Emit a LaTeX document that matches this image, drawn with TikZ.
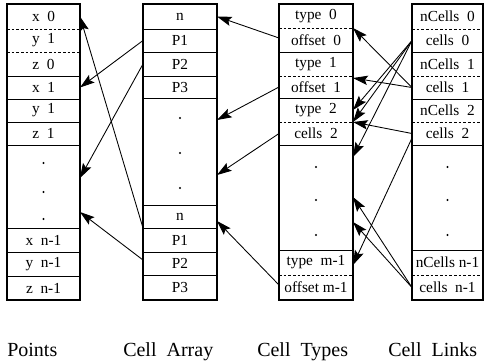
\documentclass[tikz,border=0pt]{standalone}
\usepackage{fontspec}
\setmainfont{Liberation Serif}
\usetikzlibrary{arrows.meta,calc}
\newcommand\rowbox[6]{%
  \node[cell, minimum width={#6*0.75pt}, minimum height={(#4-#3)*0.75pt}, anchor=north west] (#1) at (#2,#3) {#5};}
\begin{document}
\begin{tikzpicture}[x=0.75pt,y=-0.75pt,
  cell/.style={inner sep=0pt, outer sep=0pt, font=\fontsize{11.5}{12}\selectfont},
  outer/.style={line width=1.4pt},
  sep/.style={line width=0.6pt},
  dsep/.style={line width=0.5pt, dash pattern=on 2pt off 1.5pt},
  ptr/.style={line width=0.65pt, -{Stealth[length=11pt,width=7pt,inset=2pt]}},
  lab/.style={anchor=base west, inner sep=0pt, font=\fontsize{15}{18}\selectfont},
  dot/.style={fill=black}]
\useasboundingbox (0,0) rectangle (484,362);
% ---------- Points ----------
\rowbox{pA}{7}{4}{29}{x\ \ 0}{73}
\rowbox{pB}{7}{29}{52}{y\ \ 1}{73}
\rowbox{pC}{7}{52}{76}{z\ \ 0}{73}
\rowbox{pD}{7}{76}{99}{x\ \ 1}{73}
\rowbox{pE}{7}{99}{122}{y\ \ 1}{73}
\rowbox{pF}{7}{122}{145}{z\ \ 1}{73}
\rowbox{pG}{7}{145}{228}{}{73}
\rowbox{pH}{7}{228}{252}{x\ \ n-1}{73}
\rowbox{pI}{7}{252}{276}{y\ \ n-1}{73}
\rowbox{pJ}{7}{276}{300}{z\ \ n-1}{73}
\draw[dsep] (pA.south west) -- (pA.south east);
\draw[dsep] (pB.south west) -- (pB.south east);
\foreach \r in {pC,pD,pE,pF,pG,pH,pI}{\draw[sep] (\r.south west) -- (\r.south east);}
\draw[outer] (pA.north west) rectangle (pJ.south east);
\foreach \yy in {163,192,219}{\fill[dot] (pG.north |- 0,\yy) circle (1.2);}
% ---------- Cell Array ----------
\rowbox{aA}{143}{4}{29}{n}{74}
\rowbox{aB}{143}{29}{52}{P1}{74}
\rowbox{aC}{143}{52}{76}{P2}{74}
\rowbox{aD}{143}{76}{98}{P3}{74}
\rowbox{aE}{143}{98}{205}{}{74}
\rowbox{aF}{143}{205}{228}{n}{74}
\rowbox{aG}{143}{228}{252}{P1}{74}
\rowbox{aH}{143}{252}{275}{P2}{74}
\rowbox{aI}{143}{275}{300}{P3}{74}
\foreach \r in {aA,aB,aC,aD,aE,aF,aG,aH}{\draw[sep] (\r.south west) -- (\r.south east);}
\draw[outer] (aA.north west) rectangle (aI.south east);
\foreach \yy in {118,153,188}{\fill[dot] (aE.north |- 0,\yy) circle (1.2);}
% ---------- Cell Types ----------
\rowbox{tA}{279}{4}{28}{type\ \ 0}{74}
\rowbox{tB}{279}{28}{52}{offset\ \ 0}{74}
\rowbox{tC}{279}{52}{76}{type\ \ 1}{74}
\rowbox{tD}{279}{76}{98}{offset\ \ 1}{74}
\rowbox{tE}{279}{98}{122}{type\ \ 2}{74}
\rowbox{tF}{279}{122}{145}{cells\ \ 2}{74}
\rowbox{tG}{279}{145}{250}{}{74}
\rowbox{tH}{279}{250}{275}{type\ \ m-1}{74}
\rowbox{tI}{279}{275}{300}{offset\ m-1}{74}
\foreach \r in {tA,tC,tE,tH}{\draw[dsep] (\r.south west) -- (\r.south east);}
\foreach \r in {tB,tD,tF,tG}{\draw[sep] (\r.south west) -- (\r.south east);}
\draw[outer] (tA.north west) rectangle (tI.south east);
\foreach \yy in {167,200,235}{\fill[dot] (tG.north |- 0,\yy) circle (1.2);}
% ---------- Cell Links ----------
\rowbox{lA}{412}{4}{29}{nCells\ \ 0}{71}
\rowbox{lB}{412}{29}{52}{cells\ \ 0}{71}
\rowbox{lC}{412}{52}{76}{nCells\ \ 1}{71}
\rowbox{lD}{412}{76}{99}{cells\ \ 1}{71}
\rowbox{lE}{412}{99}{122}{nCells\ \ 2}{71}
\rowbox{lF}{412}{122}{145}{cells\ \ 2}{71}
\rowbox{lG}{412}{145}{250}{}{71}
\rowbox{lH}{412}{250}{275}{nCells\ n-1}{71}
\rowbox{lI}{412}{275}{300}{cells\ \ n-1}{71}
\foreach \r in {lA,lC,lE,lH}{\draw[dsep] (\r.south west) -- (\r.south east);}
\foreach \r in {lB,lD,lF,lG}{\draw[sep] (\r.south west) -- (\r.south east);}
\draw[outer] (lA.north west) rectangle (lI.south east);
\foreach \yy in {167,200,235}{\fill[dot] (lG.north |- 0,\yy) circle (1.2);}
% ---------- pointers: Cell Array -> Points ----------
\draw[ptr] (aG.north west) -- (pA.east);
\draw[ptr] (aB.west) -- (pD.east);
\draw[ptr] (aC.west) -- (pG.east |- 0,178);
\draw[ptr] (aH.west |- 0,260) -- (pG.east |- 0,212);
% ---------- Cell Types -> Cell Array ----------
\draw[ptr] (tB.west |- 0,38) -- (aA.east);
\draw[ptr] (tD.west) -- (aE.east |- 0,120);
\draw[ptr] (tF.west) -- (aE.east |- 0,175);
\draw[ptr] (tI.west |- 0,285) -- (aF.east |- 0,221);
% ---------- Cell Links -> Cell Types ----------
\draw[ptr] (lD.west) -- (tA.south east);
\draw[ptr] (lD.west) -- (tD.north east |- 0,78);
\draw[ptr] (lB.west) -- (tE.east);
\draw[ptr] (lB.west) -- (tE.south east);
\draw[ptr] (lB.west) -- (tG.east |- 0,157);
\draw[ptr] (lF.west) -- (tE.south east);
\draw[ptr] (lF.west |- 0,138) -- (tH.east |- 0,265);
\draw[ptr] (lI.west) -- (tG.east |- 0,197);
\draw[ptr] (lI.west) -- (tG.east |- 0,222);
% ---------- labels ----------
\node[lab] (lp)  at (7,356)   {Points};
\node[lab] (lca) at (123,356) {Cell\ \ Array};
\node[lab] (lct) at (257,356) {Cell\ \ Types};
\node[lab] (lcl) at (388,356) {Cell\ \ Links};
\end{tikzpicture}
\end{document}
